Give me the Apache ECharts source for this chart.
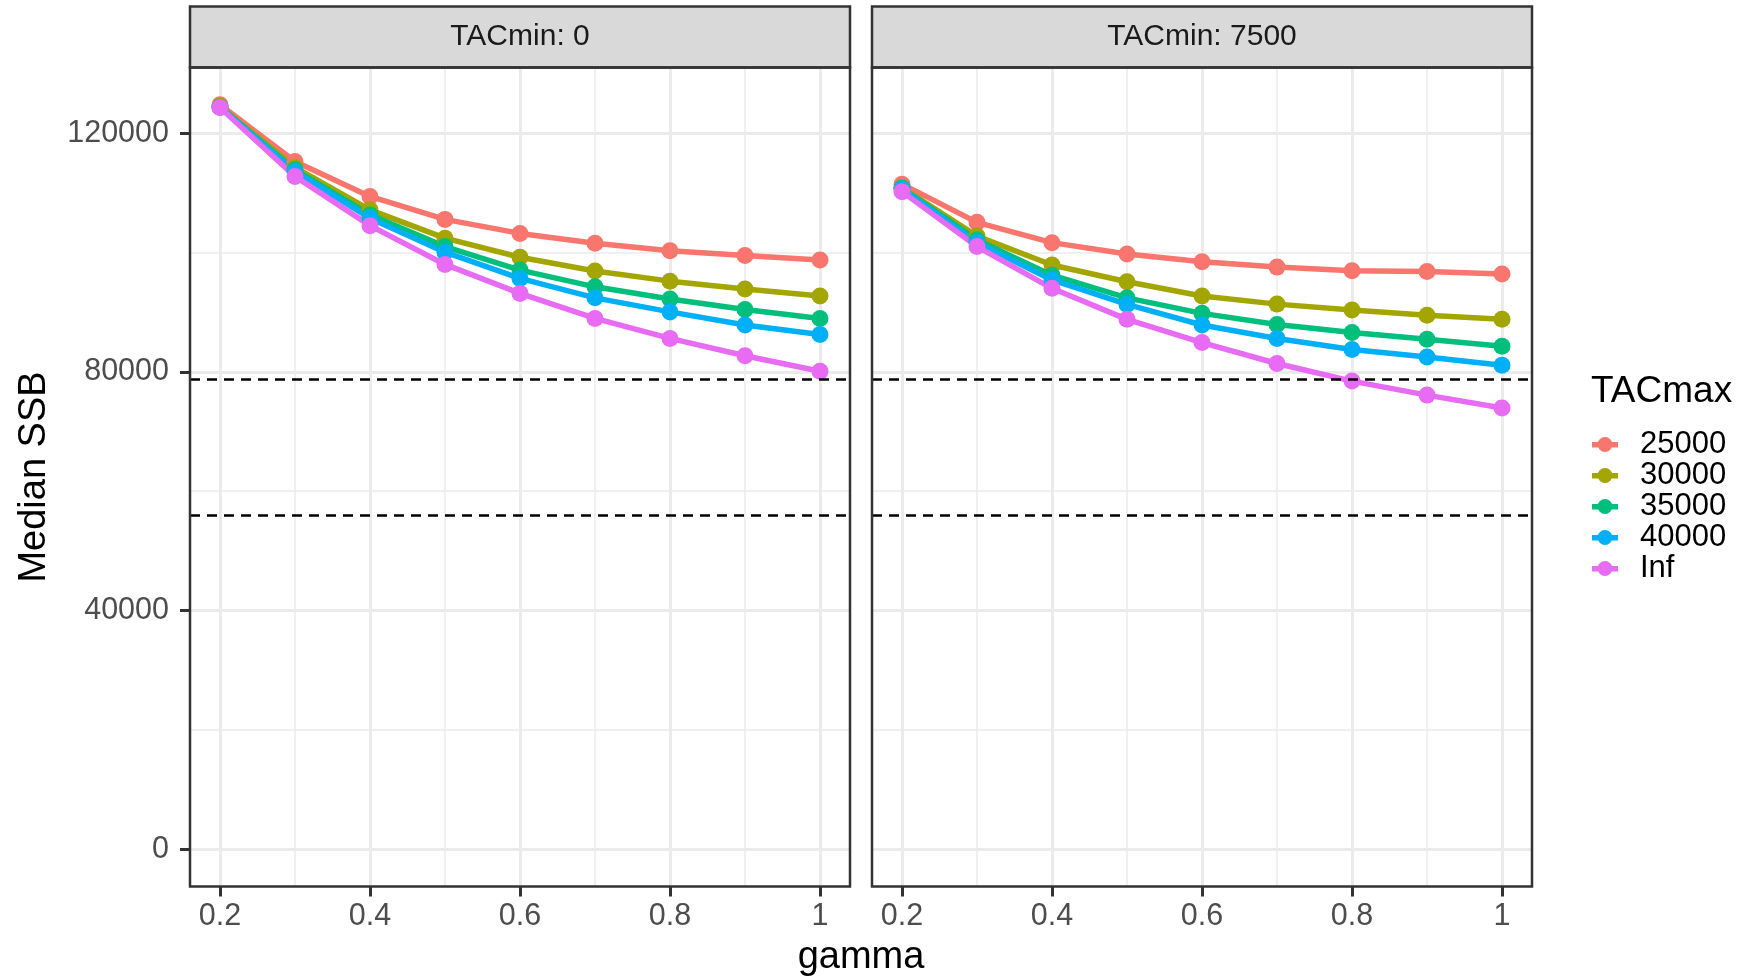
<!DOCTYPE html>
<html>
<head>
<meta charset="utf-8">
<script src="https://cdn.jsdelivr.net/npm/echarts@6/dist/echarts.min.js"></script>
<style>
html,body{margin:0;padding:0;background:#fff;}
#chart{width:1747px;height:979px;}
</style>
</head>
<body>
<div id="chart"></div>
<script>
// ---- data ----
const gammas = [0.2, 0.3, 0.4, 0.5, 0.6, 0.7, 0.8, 0.9, 1.0];
const tacmaxLevels = ['25000', '30000', '35000', '40000', 'Inf'];
const panelTitles = ['TACmin: 0', 'TACmin: 7500'];
const xTickValues = [0.2, 0.4, 0.6, 0.8, 1];
const xMinorValues = [0.3, 0.5, 0.7, 0.9];
const yTickValues = [0, 40000, 80000, 120000];
const yMinorValues = [20000, 60000, 100000];
const refLines = [78700, 56000];

// TACmin: 0
const ssb0_25000 = [124750, 115250, 109400, 105550, 103200, 101550, 100300, 99500, 98750];
const ssb0_30000 = [124500, 114250, 107150, 102400, 99200, 96900, 95200, 93900, 92700];
const ssb0_35000 = [124350, 113850, 106300, 101000, 97050, 94250, 92200, 90450, 88950];
const ssb0_40000 = [124350, 113550, 105750, 100050, 95650, 92400, 90050, 87850, 86250];
const ssb0_Inf   = [124300, 112750, 104500, 98000, 93150, 88950, 85600, 82700, 80100];
// TACmin: 7500
const ssb7500_25000 = [111450, 105050, 101650, 99750, 98450, 97550, 96950, 96800, 96400];
const ssb7500_30000 = [110900, 102750, 97900, 95100, 92700, 91350, 90350, 89500, 88800];
const ssb7500_35000 = [110750, 102100, 96200, 92400, 89800, 87950, 86600, 85450, 84300];
const ssb7500_40000 = [110650, 101650, 95400, 91300, 87850, 85600, 83750, 82500, 81100];
const ssb7500_Inf   = [110200, 101000, 94000, 88800, 84900, 81400, 78450, 76100, 73950];

const panelData = [
  [ssb0_25000, ssb0_30000, ssb0_35000, ssb0_40000, ssb0_Inf],
  [ssb7500_25000, ssb7500_30000, ssb7500_35000, ssb7500_40000, ssb7500_Inf]
];

// ---- styling / layout ----
const colors = ['#F8766D', '#A3A500', '#00BF7D', '#00B0F6', '#E76BF3'];
const FONT = '"Liberation Sans", Arial, sans-serif';
const gridTop = 67.5, gridH = 819, gridW = 660;
const gridLefts = [190, 872];
const stripTop = 6.5;

const grids = [], xAxes = [], yAxes = [], series = [], graphics = [];

gridLefts.forEach((gl, p) => {
  grids.push({left: gl, top: gridTop, width: gridW, height: gridH, show: false, containLabel: false});
  // main x axis
  xAxes.push({
    type: 'value', gridIndex: p, min: 0.16, max: 1.04, position: 'bottom',
    axisLine: {show: false, onZero: false},
    axisTick: {show: true, customValues: xTickValues, length: 10, lineStyle: {color: '#333333', width: 3}},
    axisLabel: {show: true, customValues: xTickValues, margin: 15, color: '#4D4D4D', fontSize: 30.5, fontFamily: FONT,
      formatter: v => String(v)},
    splitLine: {show: true, lineStyle: {color: '#EBEBEB', width: 3}}
  });
  // minor x axis (grid lines only)
  xAxes.push({
    type: 'value', gridIndex: p, min: 0.16, max: 1.04, position: 'top',
    axisLine: {show: false, onZero: false},
    axisTick: {show: false, customValues: xMinorValues},
    axisLabel: {show: false, customValues: xMinorValues},
    splitLine: {show: true, lineStyle: {color: '#EBEBEB', width: 1.5}}
  });
  // main y axis
  yAxes.push({
    type: 'value', gridIndex: p, min: -6240, max: 131000, position: 'left',
    axisLine: {show: false, onZero: false},
    axisTick: {show: p === 0, customValues: yTickValues, length: 10, lineStyle: {color: '#333333', width: 3}},
    axisLabel: {show: p === 0, customValues: yTickValues, margin: 21, color: '#4D4D4D', fontSize: 30.5, fontFamily: FONT,
      formatter: v => String(v)},
    splitLine: {show: true, lineStyle: {color: '#EBEBEB', width: 3}}
  });
  // minor y axis
  yAxes.push({
    type: 'value', gridIndex: p, min: -6240, max: 131000, position: 'right',
    axisLine: {show: false, onZero: false},
    axisTick: {show: false, customValues: yMinorValues},
    axisLabel: {show: false, customValues: yMinorValues},
    splitLine: {show: true, lineStyle: {color: '#EBEBEB', width: 1.5}}
  });

  const xi = p * 2, yi = p * 2;
  // lines
  tacmaxLevels.forEach((lvl, k) => {
    series.push({
      name: lvl, type: 'line', xAxisIndex: xi, yAxisIndex: yi, z: 2,
      data: gammas.map((g, i) => [g, panelData[p][k][i]]),
      symbol: 'none', showSymbol: false, silent: true, animation: false,
      lineStyle: {color: colors[k], width: 5.5}, itemStyle: {color: colors[k]}
    });
  });
  // points
  tacmaxLevels.forEach((lvl, k) => {
    series.push({
      name: lvl, type: 'scatter', xAxisIndex: xi, yAxisIndex: yi, z: 3,
      data: gammas.map((g, i) => [g, panelData[p][k][i]]),
      symbol: 'circle', symbolSize: 17, silent: true, animation: false,
      itemStyle: {color: colors[k], opacity: 1}
    });
  });
  // reference dashed lines
  series.push({
    name: 'ref', type: 'line', xAxisIndex: xi, yAxisIndex: yi, z: 4, data: [],
    animation: false, silent: true,
    markLine: {
      symbol: ['none', 'none'], silent: true, animation: false,
      label: {show: false},
      lineStyle: {color: '#000000', width: 2.5, type: [10, 7]},
      data: refLines.map(v => ({yAxis: v}))
    }
  });

  // strip
  graphics.push({
    type: 'rect', z: 10,
    shape: {x: gl, y: stripTop, width: gridW, height: gridTop - stripTop},
    style: {fill: '#D9D9D9', stroke: '#333333', lineWidth: 2.5}
  });
  graphics.push({
    type: 'text', z: 11, x: gl + gridW / 2, y: (stripTop + gridTop) / 2,
    style: {text: panelTitles[p], fill: '#1A1A1A', font: '30px ' + FONT, align: 'center', verticalAlign: 'middle'}
  });
  // panel border
  graphics.push({
    type: 'rect', z: 10,
    shape: {x: gl, y: gridTop, width: gridW, height: gridH},
    style: {fill: 'none', stroke: '#333333', lineWidth: 2.5}
  });
});

// axis titles and legend title
graphics.push({
  type: 'text', z: 11, x: 861, y: 958,
  style: {text: 'gamma', fill: '#000000', font: '38px ' + FONT, align: 'center', verticalAlign: 'middle'}
});
graphics.push({
  type: 'text', z: 11, x: 35, y: 477, rotation: Math.PI / 2,
  style: {text: 'Median SSB', fill: '#000000', font: '38px ' + FONT, align: 'center', verticalAlign: 'middle'}
});
graphics.push({
  type: 'text', z: 11, x: 1591, y: 391.5,
  style: {text: 'TACmax', fill: '#000000', font: '37px ' + FONT, align: 'left', verticalAlign: 'middle'}
});

const legendIcon = 'path://M0,5 H26 V10.5 H0 Z M13,0 A7.5,7.5 0 1 1 13,15 A7.5,7.5 0 1 1 13,0 Z';

const option = {
  backgroundColor: '#ffffff',
  animation: false,
  grid: grids,
  xAxis: xAxes,
  yAxis: yAxes,
  legend: {
    data: tacmaxLevels.map((n, k) => ({name: n, icon: legendIcon, itemStyle: {color: colors[k]}})),
    orient: 'vertical', left: 1592, top: 429,
    itemWidth: 26, itemHeight: 15, itemGap: 0, padding: 0,
    selectedMode: false,
    textStyle: {fontSize: 31, fontFamily: FONT, color: '#000000', lineHeight: 30, padding: [0, 0, 0, 17]}
  },
  series: series,
  graphic: graphics
};

const chart = echarts.init(document.getElementById('chart'), null, {renderer: 'canvas'});
chart.setOption(option);
</script>
</body>
</html>
